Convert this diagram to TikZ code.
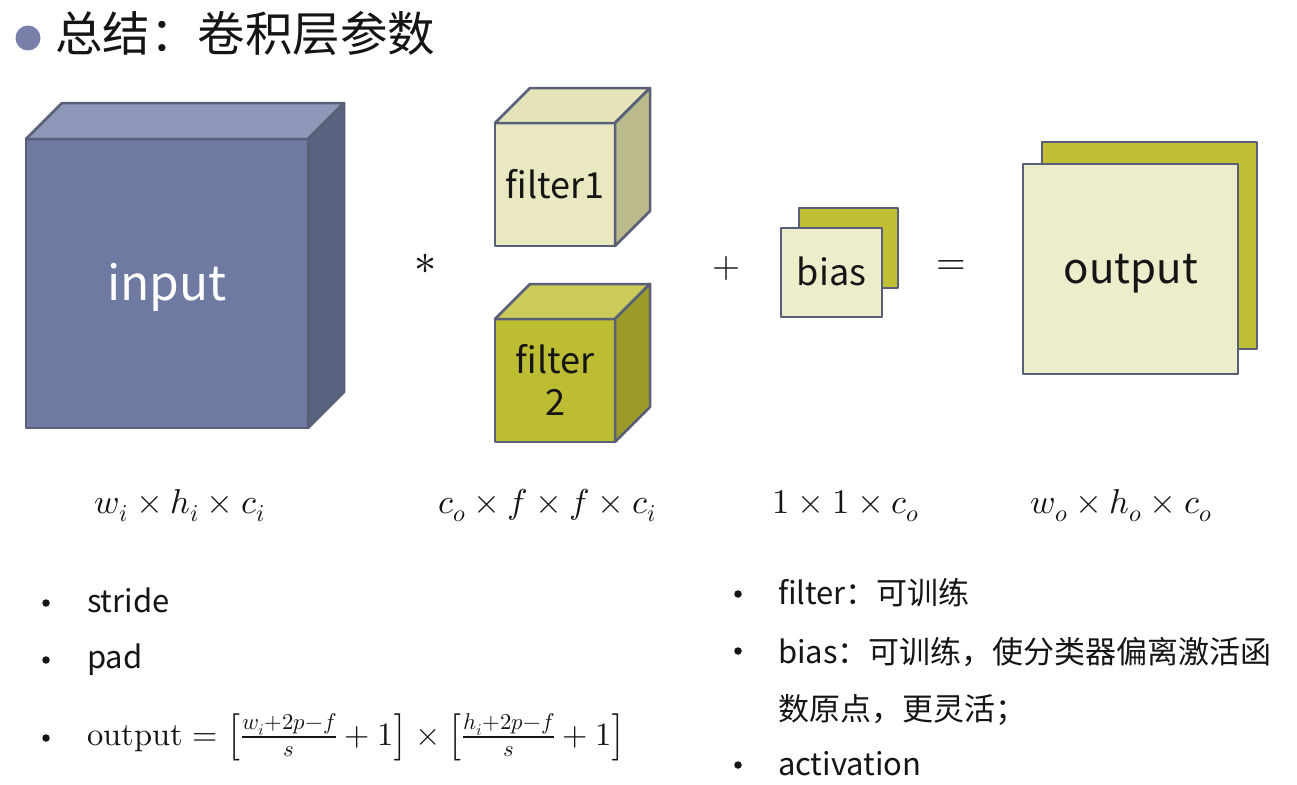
\documentclass[tikz,border=0pt]{standalone}
\usepackage{fontspec}
\usepackage{unicode-math}
\setmainfont{Noto Sans CJK SC}
\setmathfont{Latin Modern Math}
\definecolor{edgec}{HTML}{5A5F78}
\definecolor{inF}{HTML}{6F7AA3}
\definecolor{inT}{HTML}{8E98B8}
\definecolor{inS}{HTML}{59627F}
\definecolor{fAF}{HTML}{E9E8C0}
\definecolor{fAT}{HTML}{E4E4B8}
\definecolor{fAS}{HTML}{BABA8C}
\definecolor{fBF}{HTML}{BDBD34}
\definecolor{fBT}{HTML}{CBCB5A}
\definecolor{fBS}{HTML}{9B9B2A}
\definecolor{paleF}{HTML}{EDECCB}
\definecolor{oliveB}{HTML}{C0BF36}
\definecolor{bulc}{HTML}{7B80AB}
\definecolor{txt}{HTML}{151515}
\tikzset{
  edge/.style={draw=edgec, line width=2.5pt, line join=round},
  face/.style={edge, inner sep=0pt, outer sep=0pt},
  lbl/.style={inner sep=0pt, outer sep=0pt, text=txt},
  boxtxt/.style={lbl, anchor=base, font=\fontsize{36}{42}\selectfont},
  dimlbl/.style={lbl, anchor=base, font=\fontsize{34.5}{38}\selectfont},
  listtxt/.style={lbl, anchor=base west, font=\fontsize{31}{36}\selectfont},
  dot/.style={circle, fill=txt, inner sep=0pt, minimum size=7.5pt},
}
\begin{document}
\begin{tikzpicture}[x=1pt,y=-1pt]
\fill[white] (0,0) rectangle (1297,784);
\useasboundingbox (0,0) rectangle (1297,784);

% title
\node[circle, fill=bulc, inner sep=0pt, minimum size=25pt] (tb) at (28,38) {};
\node[lbl, anchor=west, font=\fontsize{47.5}{50}\selectfont] (title) at (55,34) {总结：卷积层参数};

% input cube
\node[face, fill=inF, minimum width=282pt, minimum height=289pt] (input) at (167,283.5) {};
\filldraw[edge, fill=inT] (input.north west) -- ++(36,-36) -- ([shift={(36,-36)}]input.north east) -- (input.north east) -- cycle;
\filldraw[edge, fill=inS] (input.north east) -- ++(36,-36) -- ([shift={(36,-36)}]input.south east) -- (input.south east) -- cycle;
\node[boxtxt, text=white, font=\fontsize{48}{52}\selectfont] (inputt) at (167,300) {input};

% filter 1
\node[face, fill=fAF, minimum width=120pt, minimum height=123pt] (f1) at (555,184.5) {};
\filldraw[edge, fill=fAT] (f1.north west) -- ++(35,-35) -- ([shift={(35,-35)}]f1.north east) -- (f1.north east) -- cycle;
\filldraw[edge, fill=fAS] (f1.north east) -- ++(35,-35) -- ([shift={(35,-35)}]f1.south east) -- (f1.south east) -- cycle;
\node[boxtxt] (f1t) at (555,198) {filter1};

% filter 2
\node[face, fill=fBF, minimum width=120pt, minimum height=123pt] (f2) at (555,380.5) {};
\filldraw[edge, fill=fBT] (f2.north west) -- ++(35,-35) -- ([shift={(35,-35)}]f2.north east) -- (f2.north east) -- cycle;
\filldraw[edge, fill=fBS] (f2.north east) -- ++(35,-35) -- ([shift={(35,-35)}]f2.south east) -- (f2.south east) -- cycle;
\node[boxtxt] (f2ta) at (555,373) {filter};
\node[boxtxt] (f2tb) at (555,415) {2};

% bias
\node[face, fill=oliveB, minimum width=99pt, minimum height=80pt] (biasback) at (848.5,248) {};
\node[face, fill=paleF, minimum width=101pt, minimum height=89pt] (bias) at (831.5,272.5) {};
\node[boxtxt] (biast) at (831.5,285) {bias};

% output
\node[face, fill=oliveB, minimum width=215pt, minimum height=207pt] (outback) at (1149.5,245.5) {};
\node[face, fill=paleF, minimum width=215pt, minimum height=210pt] (output) at (1130.5,269) {};
\node[boxtxt, font=\fontsize{42}{46}\selectfont] (outputt) at (1131,283) {output};

% operators
\node[lbl, font=\fontsize{44}{48}\selectfont] (star) at (425,264) {$\ast$};
\node[lbl, font=\fontsize{36}{40}\selectfont] (plus) at (726,268) {$+$};
\node[lbl, font=\fontsize{38}{40}\selectfont] (eq) at (951,268) {$=$};

% dimension labels
\node[dimlbl] (dimin) at (180,513) {$w_i\times h_i\times c_i$};
\node[dimlbl] (dimf) at (547,513) {$c_o\times f\times f\times c_i$};
\node[dimlbl] (dimb) at (846,513) {$1\times 1\times c_o$};
\node[dimlbl] (dimo) at (1121,513) {$w_o\times h_o\times c_o$};

% left list
\node[dot] (lb1) at (46,603) {};
\node[dot] (lb2) at (46,660) {};
\node[dot] (lb3) at (46,738) {};
\node[listtxt] (l1) at (87,612) {stride};
\node[listtxt] (l2) at (87,668) {pad};
\node[listtxt, font=\fontsize{32.5}{36}\selectfont] (l3) at (87,745) {$\symup{output}=\left[\frac{w_i+2p-f}{s}+1\right]\times\left[\frac{h_i+2p-f}{s}+1\right]$};

% right list
\node[dot] (rb1) at (738,594) {};
\node[dot] (rb2) at (738,651) {};
\node[dot] (rb3) at (738,765) {};
\node[listtxt] (r1) at (778,604) {filter：可训练};
\node[listtxt] (r2) at (778,663) {bias：可训练，使分类器偏离激活函};
\node[listtxt] (r3) at (778,720) {数原点，更灵活；};
\node[listtxt] (r4) at (778,775) {activation};
\end{tikzpicture}
\end{document}
